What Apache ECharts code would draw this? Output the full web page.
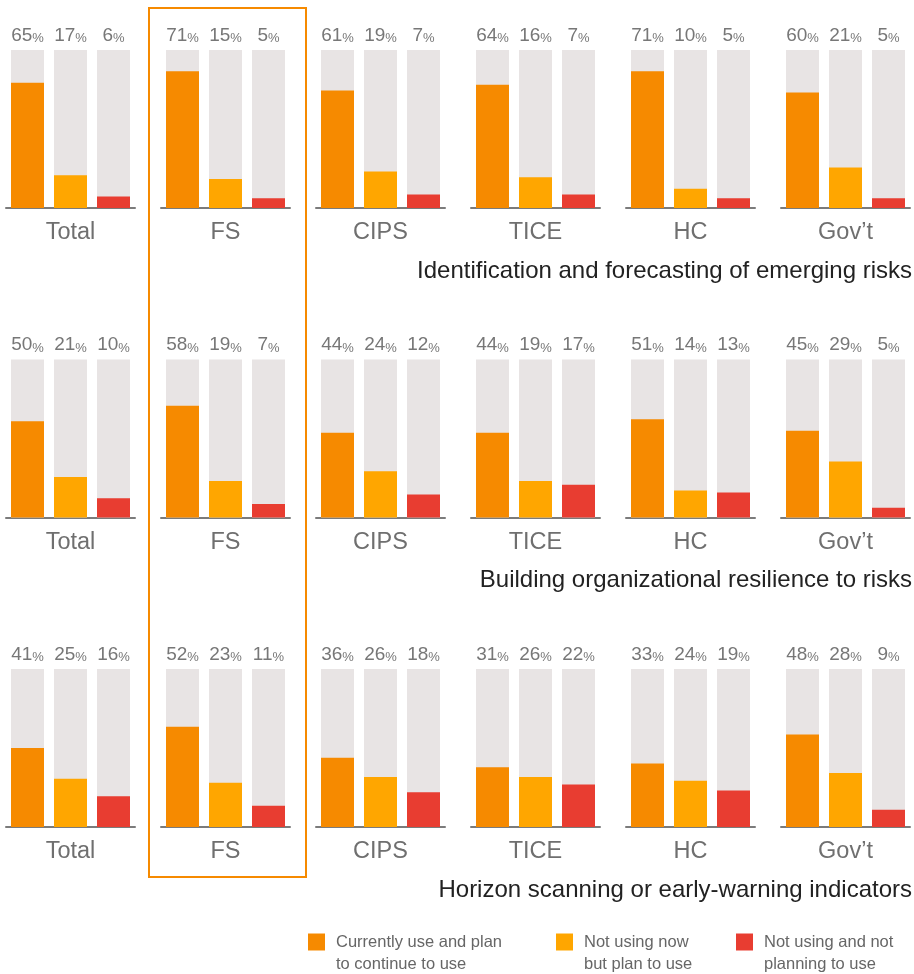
<!DOCTYPE html>
<html>
<head>
<meta charset="utf-8">
<script src="https://cdn.jsdelivr.net/npm/echarts@6/dist/echarts.min.js"></script>
<style>
    html, body { margin: 0; padding: 0; background: #fff; }
    #chart { width: 914px; height: 974px; }
</style>
</head>
<body>
<div id="chart"></div>
<script>
// 数据
var rowTitles = [
    "Identification and forecasting of emerging risks",
    "Building organizational resilience to risks",
    "Horizon scanning or early-warning indicators"
];
var groups = ["Total", "FS", "CIPS", "TICE", "HC", "Gov\u2019t"];
var statusNames = [
    "Currently use and plan\nto continue to use",
    "Not using now\nbut plan to use",
    "Not using and not\nplanning to use"
];
var currentUse = [
    [65, 71, 61, 64, 71, 60],
    [50, 58, 44, 44, 51, 45],
    [41, 52, 36, 31, 33, 48]
];
var planToUse = [
    [17, 15, 19, 16, 10, 21],
    [21, 19, 24, 19, 14, 29],
    [25, 23, 26, 26, 24, 28]
];
var notPlanning = [
    [6, 5, 7, 7, 5, 5],
    [10, 7, 12, 17, 13, 5],
    [16, 11, 18, 22, 19, 9]
];
var axisMax = 82;

var colors = ["#F68A00", "#FFA600", "#E83D31"];
var FONT = "'Liberation Sans', Arial, Helvetica, sans-serif";

var chartDom = document.getElementById('chart');
var myChart = echarts.init(chartDom);

var grids = [], xAxes = [], yAxes = [], series = [], titles = [];

for (let r = 0; r < rowTitles.length; r++) {
    let rowValues = [currentUse[r], planToUse[r], notPlanning[r]];
    for (let g = 0; g < groups.length; g++) {
        let idx = r * groups.length + g;
        let center = 70.5 + g * 155;
        grids.push({
            left: center - 64.5,
            width: 129,
            top: 50 + r * 309.5,
            height: 158
        });
        xAxes.push({
            type: 'category',
            gridIndex: idx,
            data: ['a', 'b', 'c'],
            axisTick: {show: false},
            axisLabel: {show: false},
            axisLine: {lineStyle: {color: '#7b7b7b', width: 2}},
            name: groups[g],
            nameLocation: 'middle',
            nameGap: 13,
            nameTextStyle: {
                fontSize: 23.5,
                color: '#6f6f6f',
                fontFamily: FONT,
                verticalAlign: 'top'
            }
        });
        yAxes.push({
            type: 'value',
            gridIndex: idx,
            min: 0,
            max: axisMax,
            show: false
        });
        let vals = [rowValues[0][g], rowValues[1][g], rowValues[2][g]];
        // 灰色背景条, 顶部显示百分比
        series.push({
            name: 'track',
            type: 'bar',
            xAxisIndex: idx,
            yAxisIndex: idx,
            barWidth: 33,
            barGap: '-100%',
            silent: true,
            itemStyle: {color: '#E8E4E4'},
            data: vals.map(function () { return axisMax; }),
            label: {
                show: true,
                position: 'top',
                distance: 5,
                formatter: function (p) {
                    return '{n|' + vals[p.dataIndex] + '}{p|%}';
                },
                rich: {
                    n: {fontSize: 19, color: '#777', fontFamily: FONT, verticalAlign: 'bottom', lineHeight: 20},
                    p: {fontSize: 13, color: '#777', fontFamily: FONT, verticalAlign: 'bottom', lineHeight: 17}
                }
            }
        });
        for (let s = 0; s < 3; s++) {
            let d = ['-', '-', '-'];
            d[s] = vals[s];
            series.push({
                name: statusNames[s],
                type: 'bar',
                xAxisIndex: idx,
                yAxisIndex: idx,
                barWidth: 33,
                barGap: '-100%',
                itemStyle: {color: colors[s]},
                data: d
            });
        }
    }
    titles.push({
        text: rowTitles[r],
        right: 2,
        top: 259 + r * 309.5,
        padding: 0,
        textStyle: {fontSize: 24, fontWeight: 'normal', color: '#222', fontFamily: FONT}
    });
}

// 图例: 前面加一个空行, 让色块对齐第一行文字
var legendLeft = [308, 556, 736];
var legends = statusNames.map(function (name, i) {
    return {
        data: [name],
        left: legendLeft[i],
        top: 909,
        icon: 'rect',
        itemWidth: 17,
        itemHeight: 17,
        selectedMode: false,
        padding: 0,
        formatter: function (n) {
            return ' \n' + n;
        },
        textStyle: {
            fontSize: 16.5,
            lineHeight: 22,
            color: '#666',
            fontFamily: FONT,
            padding: [0, 0, 0, 6]
        }
    };
});

var option = {
    animation: false,
    backgroundColor: '#fff',
    title: titles,
    legend: legends,
    grid: grids,
    xAxis: xAxes,
    yAxis: yAxes,
    series: series,
    graphic: [{
        type: 'rect',
        shape: {x: 149, y: 8, width: 157, height: 869},
        style: {fill: 'none', stroke: '#F68A00', lineWidth: 2},
        z: 100
    }]
};

option && myChart.setOption(option);
</script>
</body>
</html>
